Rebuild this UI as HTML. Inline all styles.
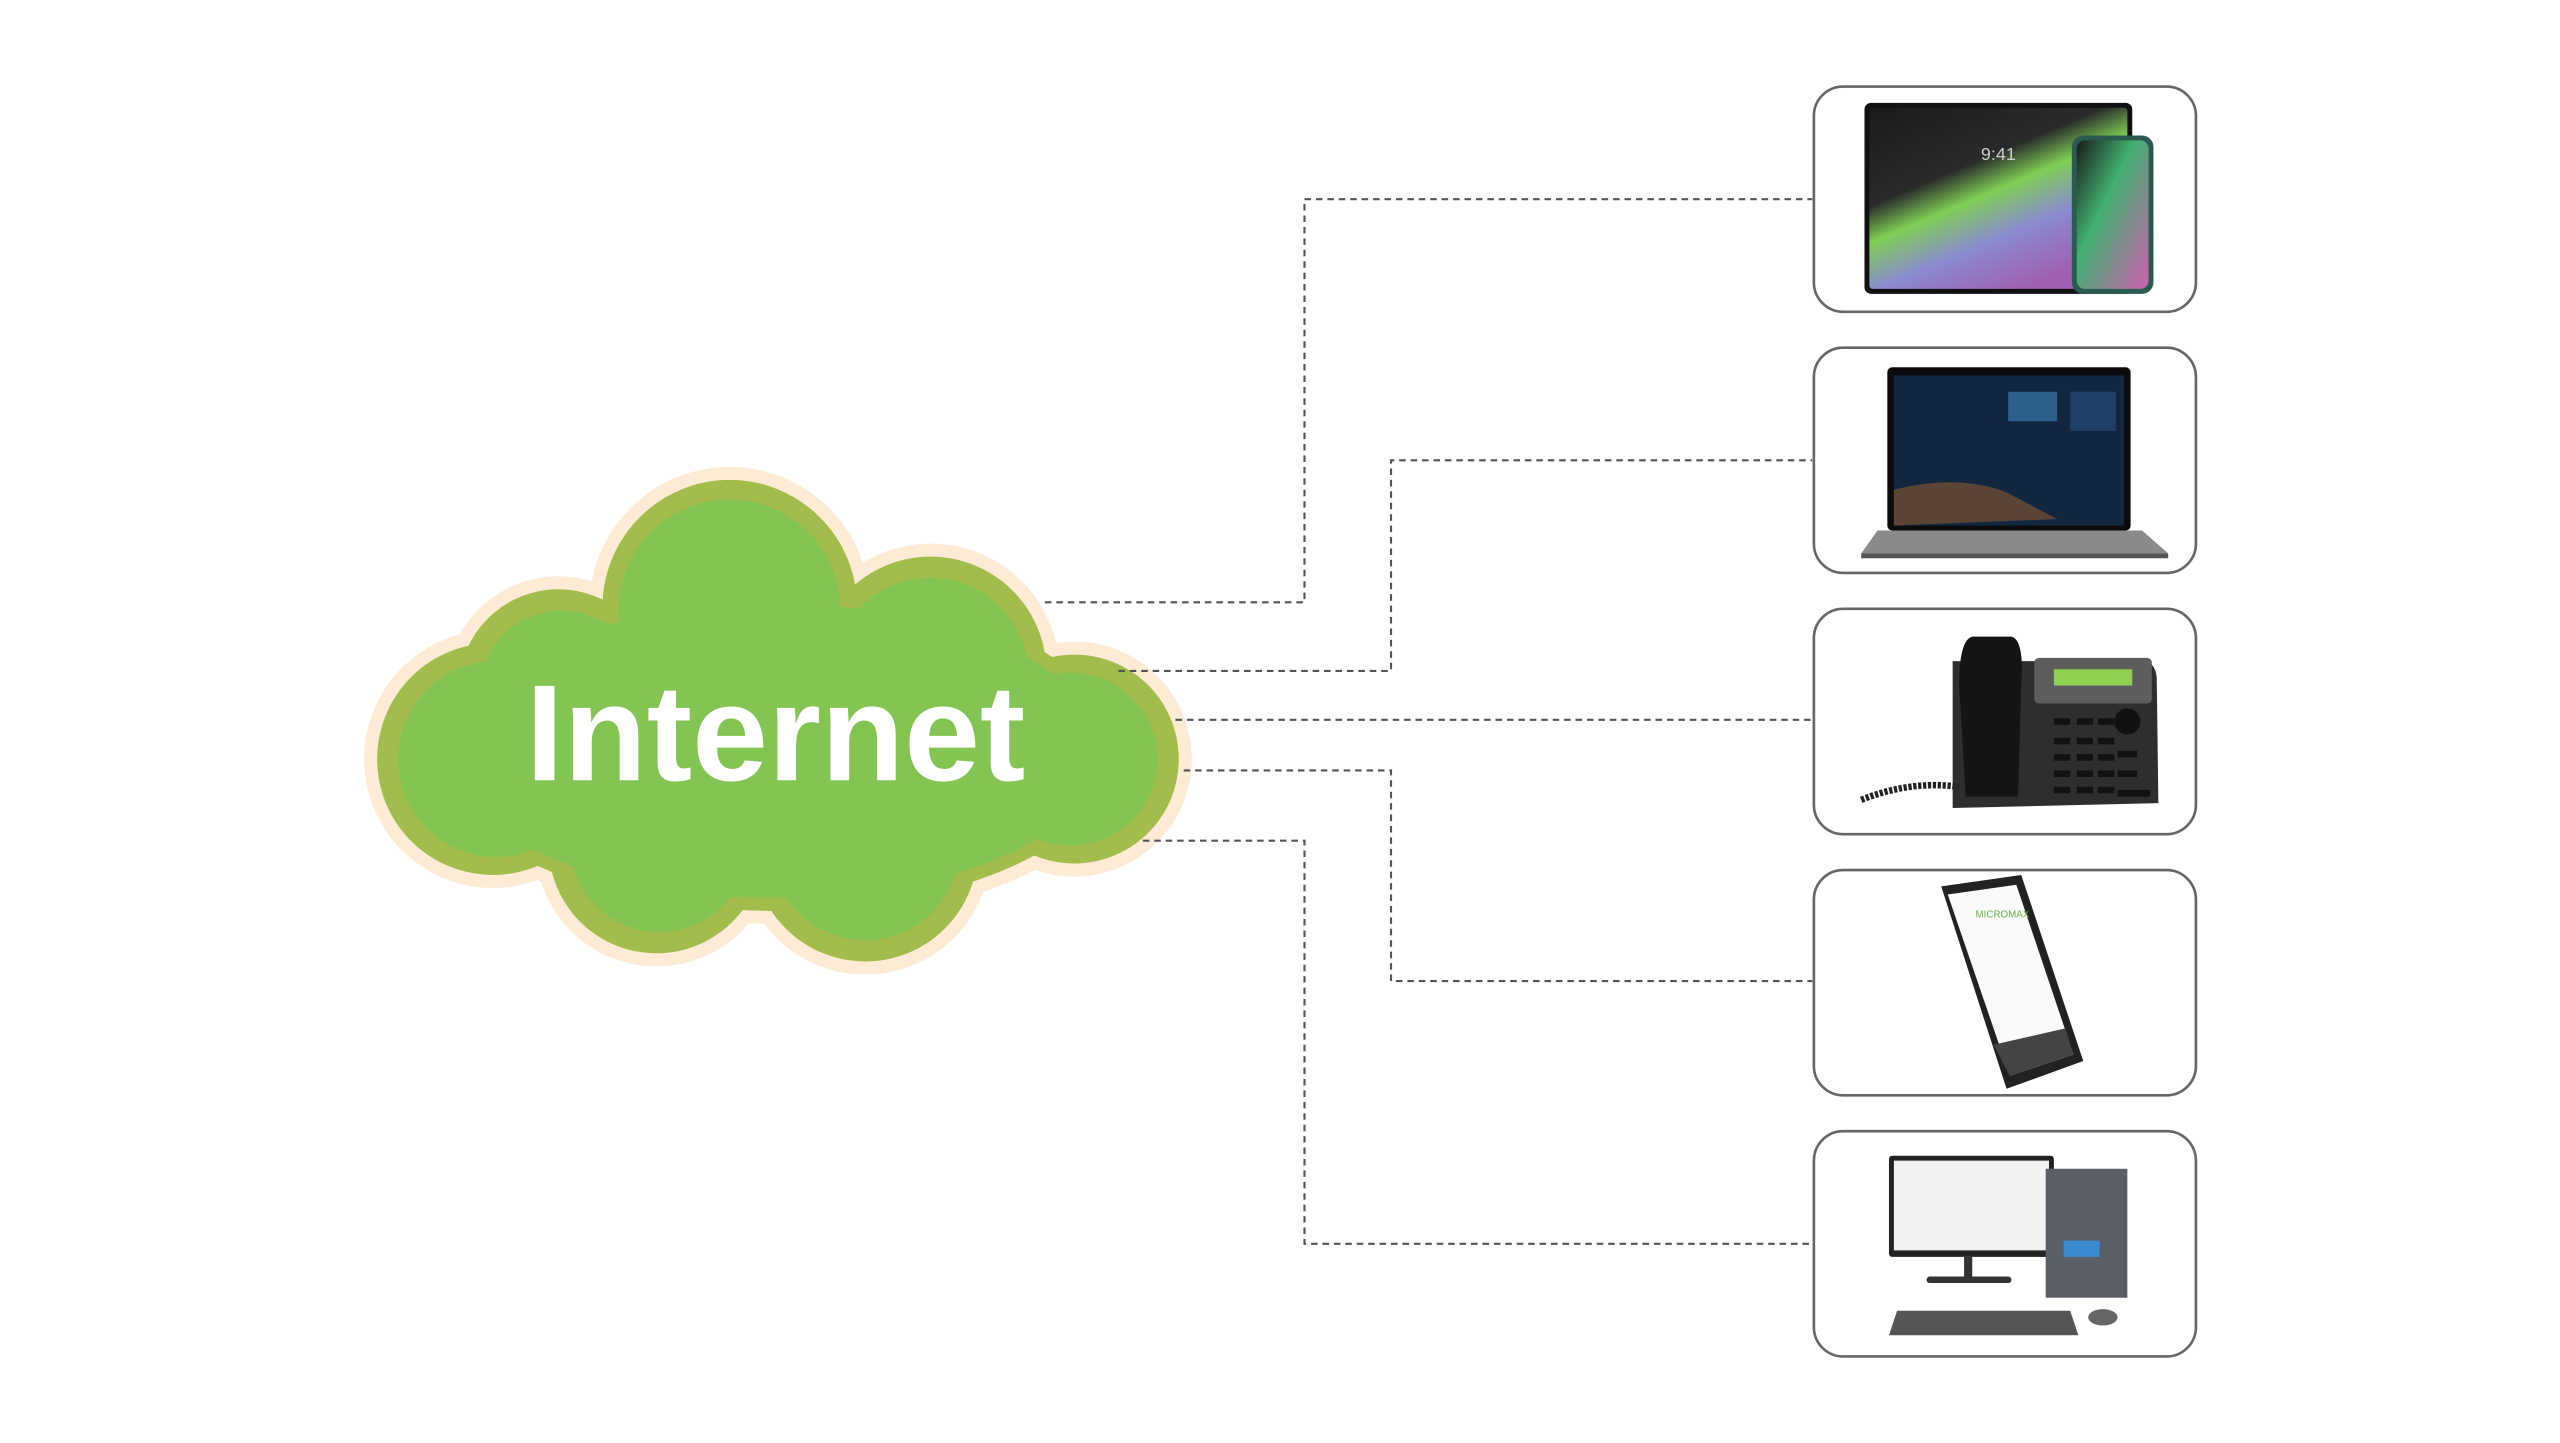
<!DOCTYPE html>
<html><head><meta charset="utf-8"><style>
html,body{margin:0;padding:0;background:#fff;}
svg{display:block;}
</style></head><body>
<svg width="2560" height="1443" viewBox="0 0 1568 884" preserveAspectRatio="none" xmlns="http://www.w3.org/2000/svg">
<defs>
<linearGradient id="tab" x1="0" y1="0" x2="0.6" y2="1">
<stop offset="0" stop-color="#1a1a1a"/><stop offset="0.4" stop-color="#2a2a2a"/><stop offset="0.55" stop-color="#7fcf55"/><stop offset="0.75" stop-color="#8a8ad0"/><stop offset="1" stop-color="#a060b0"/>
</linearGradient>
<linearGradient id="ph" x1="0" y1="0" x2="1" y2="1">
<stop offset="0" stop-color="#1a1a1a"/><stop offset="0.4" stop-color="#40b070"/><stop offset="1" stop-color="#d060b0"/>
</linearGradient>
</defs>
<g id="cloud">
<g fill="#fdebd5" stroke="#fdebd5" stroke-width="32">
<circle cx="447" cy="372" r="70"/><circle cx="570" cy="412" r="63"/><circle cx="342" cy="422" r="53"/><circle cx="302" cy="465" r="63"/><circle cx="658" cy="465" r="56"/><circle cx="402" cy="518" r="58"/><circle cx="530" cy="520" r="61"/><ellipse cx="475" cy="460" rx="200" ry="90"/>
</g>
<g fill="#a2bd4b" stroke="#a2bd4b" stroke-width="16">
<circle cx="447" cy="372" r="70"/><circle cx="570" cy="412" r="63"/><circle cx="342" cy="422" r="53"/><circle cx="302" cy="465" r="63"/><circle cx="658" cy="465" r="56"/><circle cx="402" cy="518" r="58"/><circle cx="530" cy="520" r="61"/><ellipse cx="475" cy="460" rx="200" ry="90"/>
</g>
<g fill="#84c452">
<circle cx="447" cy="374" r="68"/><circle cx="570" cy="414" r="60"/><circle cx="344" cy="424" r="50"/><circle cx="304" cy="465" r="60"/><circle cx="656" cy="465" r="53"/><circle cx="404" cy="516" r="55"/><circle cx="530" cy="518" r="58"/><ellipse cx="475" cy="460" rx="200" ry="90"/>
</g>
<text x="322" y="478" textLength="306" lengthAdjust="spacingAndGlyphs" font-family="'Liberation Sans',sans-serif" font-weight="bold" font-size="84" fill="#fff">Internet</text>
</g>
<g fill="none" stroke="#555" stroke-width="1.3" stroke-dasharray="4 3">
<polyline points="640,369 799,369 799,122 1110,122"/>
<polyline points="685,411 852,411 852,282 1110,282"/>
<polyline points="720,441 1110,441"/>
<polyline points="725,472 852,472 852,601 1110,601"/>
<polyline points="700,515 799,515 799,762 1110,762"/>
</g>
<g fill="#fff" stroke="#666" stroke-width="1.6">
<rect x="1111" y="53" width="234" height="138" rx="18"/>
<rect x="1111" y="213" width="234" height="138" rx="18"/>
<rect x="1111" y="373" width="234" height="138" rx="18"/>
<rect x="1111" y="533" width="234" height="138" rx="18"/>
<rect x="1111" y="693" width="234" height="138" rx="18"/>
</g>
<rect x="1142" y="63" width="164" height="117" rx="4" fill="#111"/>
<rect x="1145" y="66" width="158" height="111" rx="2" fill="url(#tab)"/>
<text x="1224" y="98" text-anchor="middle" font-family="'Liberation Sans',sans-serif" font-size="11" fill="#ccc">9:41</text>
<rect x="1269" y="83" width="50" height="97" rx="7" fill="#2a5a50"/>
<rect x="1272" y="86" width="44" height="91" rx="5" fill="url(#ph)"/>
<rect x="1156" y="225" width="149" height="100" rx="3" fill="#0b0b0b"/>
<rect x="1160" y="230" width="141" height="92" fill="#132640"/>
<path d="M1160 300 Q1200 290 1230 302 L1260 318 L1160 322 Z" fill="#5a4436"/>
<rect x="1230" y="240" width="30" height="18" fill="#2c5f8a"/>
<rect x="1268" y="240" width="28" height="24" fill="#1f3f66"/>
<path d="M1150 325 L1312 325 L1328 339 L1140 339 Z" fill="#8a8a8a"/>
<rect x="1140" y="339" width="188" height="3" fill="#555"/>
<path d="M1196 405 L1312 405 Q1320 405 1321 415 L1322 492 L1196 495 Z" fill="#2e2e2e"/>
<rect x="1246" y="403" width="72" height="28" rx="3" fill="#5d5d5d"/>
<rect x="1258" y="410" width="48" height="10" fill="#8fd050"/>
<g fill="#111">
<rect x="1258" y="440" width="10" height="4"/><rect x="1272" y="440" width="10" height="4"/><rect x="1285" y="440" width="10" height="4"/>
<rect x="1258" y="452" width="10" height="4"/><rect x="1272" y="452" width="10" height="4"/><rect x="1285" y="452" width="10" height="4"/>
<rect x="1258" y="462" width="10" height="4"/><rect x="1272" y="462" width="10" height="4"/><rect x="1285" y="462" width="10" height="4"/>
<rect x="1258" y="472" width="10" height="4"/><rect x="1272" y="472" width="10" height="4"/><rect x="1285" y="472" width="10" height="4"/>
<rect x="1258" y="482" width="10" height="4"/><rect x="1272" y="482" width="10" height="4"/><rect x="1285" y="482" width="10" height="4"/>
<circle cx="1303" cy="442" r="8"/><rect x="1297" y="460" width="12" height="4"/><rect x="1297" y="472" width="12" height="4"/><rect x="1297" y="484" width="20" height="4"/>
</g>
<path d="M1208 390 L1232 390 Q1240 392 1238 420 L1236 488 L1204 488 L1200 420 Q1200 392 1208 390 Z" fill="#141414"/>
<path d="M1140 490 Q1170 478 1200 482" fill="none" stroke="#222" stroke-width="4" stroke-dasharray="2 1"/>
<polygon points="1189,543 1238,536 1276,650 1229,667" fill="#222"/>
<polygon points="1193,548 1235,542 1270,646 1231,659" fill="#fafafa"/>
<polygon points="1221,640 1265,630 1270,646 1231,659" fill="#444"/>
<text x="1210" y="562" font-family="'Liberation Sans',sans-serif" font-size="6" fill="#6ab04c">MICROMAX</text>
<rect x="1157" y="708" width="101" height="62" rx="2" fill="#222"/>
<rect x="1160" y="711" width="95" height="55" fill="#f2f2f2"/>
<rect x="1203" y="770" width="5" height="12" fill="#333"/>
<rect x="1180" y="782" width="52" height="4" rx="2" fill="#333"/>
<rect x="1253" y="716" width="50" height="79" fill="#5a5e66"/>
<rect x="1264" y="760" width="22" height="10" fill="#3a8ad0"/>
<path d="M1162 803 L1268 803 L1273 818 L1157 818 Z" fill="#555"/>
<ellipse cx="1288" cy="807" rx="9" ry="5" fill="#666"/>
</svg>
</body></html>
